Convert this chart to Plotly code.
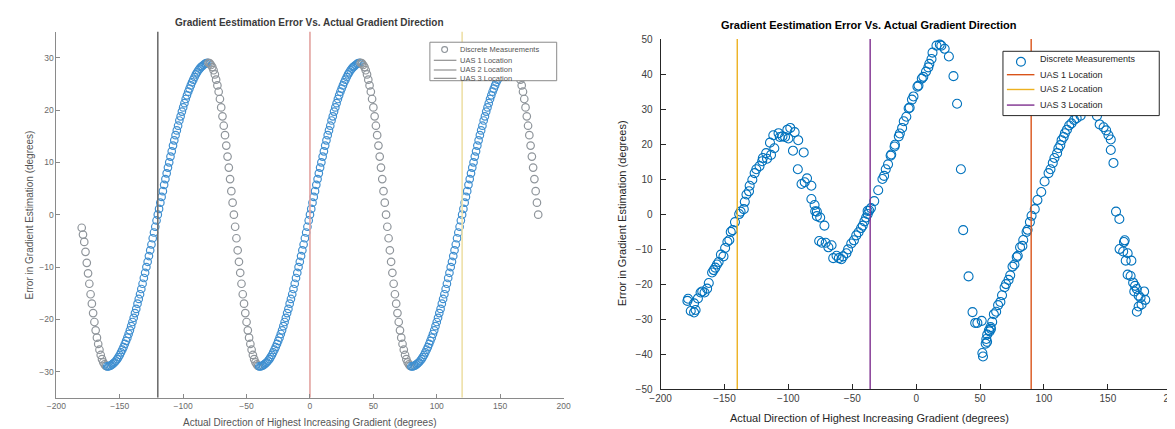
import plotly.graph_objects as go

W, H = 1175, 429

# ---- left panel: error vs direction, one sample per degree ----
LEFT_ANGLE = [
    -180, -179, -178, -177, -176, -175, -174, -173, -172, -171, -170, -169, -168, -167, -166, -165, -164, -163, -162, -161,
    -160, -159, -158, -157, -156, -155, -154, -153, -152, -151, -150, -149, -148, -147, -146, -145, -144, -143, -142, -141,
    -140, -139, -138, -137, -136, -135, -134, -133, -132, -131, -130, -129, -128, -127, -126, -125, -124, -123, -122, -121,
    -120, -119, -118, -117, -116, -115, -114, -113, -112, -111, -110, -109, -108, -107, -106, -105, -104, -103, -102, -101,
    -100, -99, -98, -97, -96, -95, -94, -93, -92, -91, -90, -89, -88, -87, -86, -85, -84, -83, -82, -81,
    -80, -79, -78, -77, -76, -75, -74, -73, -72, -71, -70, -69, -68, -67, -66, -65, -64, -63, -62, -61,
    -60, -59, -58, -57, -56, -55, -54, -53, -52, -51, -50, -49, -48, -47, -46, -45, -44, -43, -42, -41,
    -40, -39, -38, -37, -36, -35, -34, -33, -32, -31, -30, -29, -28, -27, -26, -25, -24, -23, -22, -21,
    -20, -19, -18, -17, -16, -15, -14, -13, -12, -11, -10, -9, -8, -7, -6, -5, -4, -3, -2, -1,
    0, 1, 2, 3, 4, 5, 6, 7, 8, 9, 10, 11, 12, 13, 14, 15, 16, 17, 18, 19,
    20, 21, 22, 23, 24, 25, 26, 27, 28, 29, 30, 31, 32, 33, 34, 35, 36, 37, 38, 39,
    40, 41, 42, 43, 44, 45, 46, 47, 48, 49, 50, 51, 52, 53, 54, 55, 56, 57, 58, 59,
    60, 61, 62, 63, 64, 65, 66, 67, 68, 69, 70, 71, 72, 73, 74, 75, 76, 77, 78, 79,
    80, 81, 82, 83, 84, 85, 86, 87, 88, 89, 90, 91, 92, 93, 94, 95, 96, 97, 98, 99,
    100, 101, 102, 103, 104, 105, 106, 107, 108, 109, 110, 111, 112, 113, 114, 115, 116, 117, 118, 119,
    120, 121, 122, 123, 124, 125, 126, 127, 128, 129, 130, 131, 132, 133, 134, 135, 136, 137, 138, 139,
    140, 141, 142, 143, 144, 145, 146, 147, 148, 149, 150, 151, 152, 153, 154, 155, 156, 157, 158, 159,
    160, 161, 162, 163, 164, 165, 166, 167, 168, 169, 170, 171, 172, 173, 174, 175, 176, 177, 178, 179,
    180,
]
LEFT_ERROR = [
    -2.5, -3.8, -5.2, -7.1, -9.2, -11.2, -13.2, -15.2, -17.0, -18.8, -20.5, -22.1, -23.5, -24.7, -25.8, -26.8, -27.6, -28.2, -28.6, -28.9,
    -29.0, -29.0, -28.9, -28.8, -28.6, -28.4, -28.2, -27.9, -27.6, -27.2, -26.8, -26.3, -25.8, -25.3, -24.7, -24.1, -23.5, -22.8, -22.1, -21.3,
    -20.5, -19.7, -18.8, -18.0, -17.0, -16.1, -15.2, -14.2, -13.2, -12.1, -11.1, -10.0, -9.0, -7.9, -6.8, -5.7, -4.5, -3.4, -2.3, -1.1,
    0.0, 1.1, 2.3, 3.4, 4.5, 5.7, 6.8, 7.9, 9.0, 10.0, 11.1, 12.1, 13.2, 14.2, 15.2, 16.1, 17.0, 18.0, 18.8, 19.7,
    20.5, 21.3, 22.1, 22.8, 23.5, 24.1, 24.7, 25.3, 25.8, 26.3, 26.8, 27.2, 27.6, 27.9, 28.2, 28.4, 28.6, 28.8, 28.9, 29.0,
    29.0, 28.9, 28.6, 28.2, 27.6, 26.8, 25.8, 24.7, 23.5, 22.1, 20.5, 18.8, 17.0, 15.2, 13.2, 11.1, 9.0, 6.8, 4.5, 2.3,
    0.0, -2.3, -4.5, -6.8, -9.0, -11.1, -13.2, -15.2, -17.0, -18.8, -20.5, -22.1, -23.5, -24.7, -25.8, -26.8, -27.6, -28.2, -28.6, -28.9,
    -29.0, -29.0, -28.9, -28.8, -28.6, -28.4, -28.2, -27.9, -27.6, -27.2, -26.8, -26.3, -25.8, -25.3, -24.7, -24.1, -23.5, -22.8, -22.1, -21.3,
    -20.5, -19.7, -18.8, -18.0, -17.0, -16.1, -15.2, -14.2, -13.2, -12.1, -11.1, -10.0, -9.0, -7.9, -6.8, -5.7, -4.5, -3.4, -2.3, -1.1,
    0.0, 1.1, 2.3, 3.4, 4.5, 5.7, 6.8, 7.9, 9.0, 10.0, 11.1, 12.1, 13.2, 14.2, 15.2, 16.1, 17.0, 18.0, 18.8, 19.7,
    20.5, 21.3, 22.1, 22.8, 23.5, 24.1, 24.7, 25.3, 25.8, 26.3, 26.8, 27.2, 27.6, 27.9, 28.2, 28.4, 28.6, 28.8, 28.9, 29.0,
    29.0, 28.9, 28.6, 28.2, 27.6, 26.8, 25.8, 24.7, 23.5, 22.1, 20.5, 18.8, 17.0, 15.2, 13.2, 11.1, 9.0, 6.8, 4.5, 2.3,
    0.0, -2.3, -4.5, -6.8, -9.0, -11.1, -13.2, -15.2, -17.0, -18.8, -20.5, -22.1, -23.5, -24.7, -25.8, -26.8, -27.6, -28.2, -28.6, -28.9,
    -29.0, -29.0, -28.9, -28.8, -28.6, -28.4, -28.2, -27.9, -27.6, -27.2, -26.8, -26.3, -25.8, -25.3, -24.7, -24.1, -23.5, -22.8, -22.1, -21.3,
    -20.5, -19.7, -18.8, -18.0, -17.0, -16.1, -15.2, -14.2, -13.2, -12.1, -11.1, -10.0, -9.0, -7.9, -6.8, -5.7, -4.5, -3.4, -2.3, -1.1,
    0.0, 1.1, 2.3, 3.4, 4.5, 5.7, 6.8, 7.9, 9.0, 10.0, 11.1, 12.1, 13.2, 14.2, 15.2, 16.1, 17.0, 18.0, 18.8, 19.7,
    20.5, 21.3, 22.1, 22.8, 23.5, 24.1, 24.7, 25.3, 25.8, 26.3, 26.8, 27.2, 27.6, 27.9, 28.2, 28.4, 28.6, 28.8, 28.9, 29.0,
    29.0, 28.9, 28.6, 28.2, 27.6, 26.8, 25.8, 24.7, 23.5, 22.1, 20.5, 18.8, 17.0, 15.2, 13.2, 11.1, 9.0, 6.8, 4.5, 2.3,
    0.0,
]
LEFT_UAS = [0, 120, -120]  # UAS 1, 2, 3

# ---- right panel: measured error ----
RIGHT_ANGLE = [
    -179.0, -178.5, -176.4, -173.8, -172.6, -173.8, -170.8, -168.7, -167.4, -165.6, -163.6, -162.3, -159.7, -158.5,
    -157.2, -155.9, -154.6, -152.8, -150.8, -149.5, -147.7, -146.2, -145.1, -143.6, -141.8, -138.5, -137.4, -134.9,
    -134.1, -132.8, -130.8, -130.3, -128.2, -126.4, -125.1, -122.6, -120.5, -120.0, -117.4, -116.7, -113.6, -114.4,
    -111.0, -111.8, -107.7, -106.7, -104.6, -102.6, -100.0, -100.8, -98.5, -95.1, -92.3, -96.4, -88.0, -92.6,
    -89.7, -87.2, -85.4, -82.0, -82.0, -79.5, -79.0, -77.7, -77.7, -75.1, -71.8, -75.9, -73.8, -70.8, -68.7, -66.2,
    -64.9, -62.3, -60.5, -58.5, -57.2, -54.6, -53.3, -50.8, -48.7, -46.9, -45.1, -43.1, -41.8, -40.5, -39.2, -37.9,
    -36.7, -38.0, -35.4, -32.8, -29.7, -26.4, -25.1, -23.8, -22.0, -20.0, -19.5, -16.9, -16.6, -13.6, -12.8, -11.0,
    -9.7, -7.7, -5.9, -5.1, -3.3, -2.1, 1.0, 1.8, 4.4, 5.6, 7.7, 9.5, 10.3, 12.0, 12.8, 15.9, 18.5, 19.7, 22.3, 25.6,
    29.2, 32.0, 35.0, 36.8, 41.0, 44.1, 46.2, 47.9, 51.3, 51.8, 52.3, 54.4, 54.9, 55.6, 55.5, 56.9, 57.5, 58.2, 58.5,
    59.5, 60.8, 62.6, 64.1, 65.9, 67.2, 69.2, 70.3, 72.3, 73.6, 75.4, 76.9, 78.7, 79.5, 81.3, 83.1, 83.8, 86.4, 87.2,
    89.0, 90.3, 92.8, 94.9, 97.9, 100.5, 103.6, 105.1, 106.9, 108.2, 110.3, 111.3, 112.8, 113.8, 115.4, 116.4, 118.0,
    119.7, 121.5, 123.6, 125.6, 128.7, 131.0, 134.0, 137.0, 140.0, 141.5, 143.6, 146.7, 148.7, 150.5, 152.3, 152.3,
    154.4, 156.4, 159.0, 159.2, 162.6, 163.2, 162.0, 165.5, 164.0, 168.4, 165.5, 167.8, 169.8, 171.3, 172.7, 170.7,
    174.1, 175.6, 178.4, 179.3, 176.4, 172.7, 174.1,
]
RIGHT_ERROR = [
    -24.8, -24.2, -27.7, -28.1, -27.4, -25.5, -24.1, -22.4, -22.1, -22.4, -21.3, -19.7, -16.7, -16.0,
    -15.3, -14.4, -13.7, -11.6, -12.1, -9.7, -7.9, -7.4, -5.1, -4.6, -2.3, 0.0, 0.7, 1.4,
    3.5, 5.6, 6.5, 8.1, 9.8, 11.7, 12.8, 13.7, 15.1, 16.0, 17.4, 15.8, 16.9, 20.4,
    18.8, 22.5, 23.1, 22.0, 22.2, 22.0, 21.6, 24.1, 24.6, 23.4, 21.1, 18.1, 17.6, 12.8,
    8.6, 9.1, 10.2, 8.1, 4.3, 2.6, 0.8, 0.7, -0.6, -1.0, -3.3, -7.7, -8.2, -8.2, -9.5, -8.9,
    -12.6, -11.9, -12.6, -12.9, -12.1, -11.2, -10.1, -8.4, -7.5, -6.1, -5.2, -4.0, -3.3, -2.1, -1.0, 0.0,
    1.0, 0.9, 1.7, 3.7, 6.8, 10.0, 10.9, 12.8, 14.2, 16.7, 17.0, 19.3, 19.8, 22.2, 23.0, 24.6,
    26.5, 27.8, 30.2, 30.4, 32.7, 33.6, 36.4, 36.7, 38.7, 39.2, 40.7, 41.9, 42.9, 44.3, 46.1, 48.1, 48.4, 48.1, 47.2, 45.0,
    39.4, 31.5, 12.8, -4.6, -17.8, -28.0, -31.1, -31.1, -30.5, -39.7, -40.7, -37.0, -35.7, -34.4, -36.5, -33.2, -33.5, -32.3, -32.8,
    -30.8, -28.6, -27.9, -26.0, -25.1, -23.2, -20.9, -20.0, -18.8, -17.5, -15.0, -14.4, -12.3, -11.9, -9.5, -9.1, -7.4, -5.1, -4.5,
    -2.3, -0.5, 1.4, 4.0, 6.3, 9.3, 11.7, 12.8, 14.6, 16.0, 17.4, 18.8, 19.7, 21.1, 22.0, 23.1, 24.1,
    25.3, 25.9, 26.9, 27.4, 28.1, 29.5, 30.5, 31.0, 30.0, 28.0, 25.6, 24.8, 23.9, 22.5, 21.3, 18.3,
    14.6, 0.7, -1.4, -10.0, -8.0, -7.5, -10.7, -11.2, -13.3, -13.3, -17.3, -17.7, -19.6, -20.5, -21.4, -22.1,
    -23.3, -23.9, -22.1, -24.5, -25.8, -27.9, -26.4,
]
RIGHT_UAS = [90, -140, -36]  # UAS 1, 2, 3

UAS_NAMES = ["UAS 1 Location", "UAS 2 Location", "UAS 3 Location"]
POINTS_NAME = "Discrete Measurements"
TITLE = "Gradient Eestimation Error Vs. Actual Gradient Direction"
X_TITLE = "Actual Direction of Highest Increasing Gradient (degrees)"
Y_TITLE = "Error in Gradient Estimation (degrees)"
X_TICKS = [-200, -150, -100, -50, 0, 50, 100, 150, 200]
LEFT_Y_TICKS = [-30, -20, -10, 0, 10, 20, 30]
RIGHT_Y_TICKS = [-50, -40, -30, -20, -10, 0, 10, 20, 30, 40, 50]

FONT = "Liberation Sans, Arial, sans-serif"
LEFT_UAS_COLORS = ["#e3a3a0", "#eee0a8", "#6f6f6f"]
RIGHT_UAS_COLORS = ["#D95319", "#EDB120", "#7E2F8E"]
BLUE = "#0072BD"


def px(x):
    return x / W


def py(y):
    return 1 - y / H


def paper_shape(fig, kind, x0, x1, y0, y1, **kw):
    fig.add_shape(type=kind, xref="paper", yref="paper", x0=px(x0), x1=px(x1), y0=py(y0), y1=py(y1), **kw)


def paper_text(fig, x, y, text, size, color, xanchor="center", **kw):
    fig.add_annotation(xref="paper", yref="paper", x=px(x), y=py(y), text=text, showarrow=False,
                       xanchor=xanchor, yanchor="middle", font=dict(size=size, color=color), **kw)


# the scanned left figure: steep falling branches look grey, rising ones blue
left_colors = []
for i, v in enumerate(LEFT_ERROR):
    nxt = LEFT_ERROR[i + 1] if i + 1 < len(LEFT_ERROR) else v - 1
    left_colors.append("#8f959b" if nxt < v else "#3f8fd0")

fig = go.Figure()
fig.add_trace(go.Scatter(
    x=LEFT_ANGLE, y=LEFT_ERROR, mode="markers", name=POINTS_NAME, showlegend=False,
    marker=dict(symbol="circle-open", size=7.5, color=left_colors, line=dict(width=1.2)),
    xaxis="x", yaxis="y",
))
for name, xv, c in zip(UAS_NAMES, LEFT_UAS, LEFT_UAS_COLORS):
    fig.add_trace(go.Scatter(x=[xv, xv], y=[-35, 35], mode="lines", name=name, showlegend=False,
                             line=dict(color=c, width=1.6), xaxis="x", yaxis="y"))

fig.add_trace(go.Scatter(
    x=RIGHT_ANGLE, y=RIGHT_ERROR, mode="markers", name=POINTS_NAME, showlegend=False,
    marker=dict(symbol="circle-open", size=9, color=BLUE, line=dict(width=1.1)),
    xaxis="x2", yaxis="y2",
))
for name, xv, c in zip(UAS_NAMES, RIGHT_UAS, RIGHT_UAS_COLORS):
    fig.add_trace(go.Scatter(x=[xv, xv], y=[-50, 50], mode="lines", name=name, showlegend=False,
                             line=dict(color=c, width=1.4), xaxis="x2", yaxis="y2"))

axis_common = dict(showgrid=False, zeroline=False, showline=True, ticks="inside", mirror=False)
fig.update_layout(
    width=W, height=H, margin=dict(l=0, r=0, t=0, b=0),
    paper_bgcolor="white", plot_bgcolor="white",
    font=dict(family=FONT, color="#262626"), showlegend=False,
    xaxis=dict(domain=[px(38), px(554)], range=[-200, 200], tickvals=X_TICKS, anchor="y",
               linecolor="#8a8a8a", tickcolor="#8a8a8a", ticklen=4,
               tickfont=dict(size=8.5, color="#6a6a6a"), **axis_common),
    yaxis=dict(domain=[py(395), py(19)], range=[-35, 35], tickvals=LEFT_Y_TICKS, anchor="x",
               linecolor="#8a8a8a", tickcolor="#8a8a8a", ticklen=4,
               tickfont=dict(size=8.5, color="#6a6a6a"), **axis_common),
    xaxis2=dict(domain=[px(652.7), px(1172.7)], range=[-200, 200], tickvals=X_TICKS, anchor="y2",
                linecolor="#262626", tickcolor="#262626", ticklen=5,
                tickfont=dict(size=10, color="#404040"), **axis_common),
    yaxis2=dict(domain=[py(386), py(26.7)], range=[-50, 50], tickvals=RIGHT_Y_TICKS, anchor="x2",
                linecolor="#262626", tickcolor="#262626", ticklen=5, ticklabelstandoff=5,
                tickfont=dict(size=10, color="#404040"), **axis_common),
)

# titles and axis labels
paper_text(fig, 296, 10, "<b>" + TITLE + "</b>", 10, "#3a3a3a")
paper_text(fig, 296, 420, X_TITLE, 10, "#555555")
paper_text(fig, 11, 207, Y_TITLE, 10, "#555555", textangle=-90)
paper_text(fig, 865, 12, "<b>" + TITLE + "</b>", 11, "#000000")
paper_text(fig, 865, 416, X_TITLE, 11, "#262626")
paper_text(fig, 613, 206, Y_TITLE, 11, "#262626", textangle=-90)

# left legend (scanned figure, compact box)
paper_shape(fig, "rect", 418, 547, 69.5, 30, line=dict(color="#8a8a8a", width=1), fillcolor="white")
left_rows = [37.5, 48.5, 58.5, 67.0]
paper_shape(fig, "circle", 430, 436, 40.5, 34.5, line=dict(color="#8f959b", width=1.1))
for yy in left_rows[1:]:
    paper_shape(fig, "line", 422, 445, yy, yy, line=dict(color="#7a7a7a", width=1))
for yy, t in zip(left_rows, [POINTS_NAME] + UAS_NAMES):
    paper_text(fig, 447, yy, t, 7.5, "#555555", xanchor="left")

# right legend (opaque box hides the points behind it, as in the original)
paper_shape(fig, "rect", 1001, 1160, 105.3, 39.3, line=dict(color="#262626", width=1), fillcolor="white")
paper_shape(fig, "circle", 1014.8, 1023.8, 54.5, 45.5, line=dict(color=BLUE, width=1.2))
right_rows = [47.7, 63.3, 78.5, 94.5]
for yy, c in zip(right_rows[1:], RIGHT_UAS_COLORS):
    paper_shape(fig, "line", 1005, 1033, yy, yy, line=dict(color=c, width=1.4))
for yy, t in zip(right_rows, [POINTS_NAME] + UAS_NAMES):
    paper_text(fig, 1036.7, yy, t, 9, "#262626", xanchor="left")

fig.write_html("out.html")
